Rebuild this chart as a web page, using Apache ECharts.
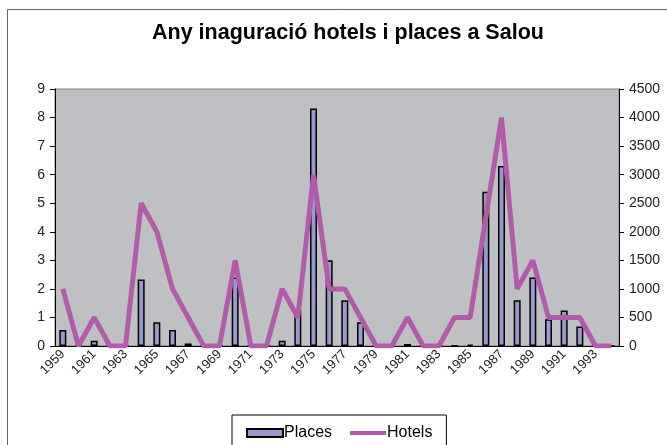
<!DOCTYPE html>
<html>
<head>
<meta charset="utf-8">
<script src="https://cdn.jsdelivr.net/npm/echarts@6/dist/echarts.min.js"></script>
<style>
  html, body { margin: 0; padding: 0; background: #fff; }
  #chart { width: 667px; height: 445px; }
</style>
</head>
<body>
<div id="chart"></div>
<script>
var years = ['1959', '1960', '1961', '1962', '1963', '1964', '1965', '1966', '1967', '1968',
             '1969', '1970', '1971', '1972', '1973', '1974', '1975', '1976', '1977', '1978',
             '1979', '1980', '1981', '1982', '1983', '1984', '1985', '1986', '1987', '1988',
             '1989', '1990', '1991', '1992', '1993', '1994'];

// places opened each year (right axis)
var places = [280, 0, 90, 0, 0, 1165, 415, 280, 45, 0,
              0, 1200, 0, 0, 90, 620, 4160, 1500, 800, 415,
              0, 0, 35, 0, 0, 12, 25, 2700, 3150, 800,
              1200, 470, 620, 340, 0, 0];

// hotels opened each year (left axis)
var hotels = [2, 0, 1, 0, 0, 5, 4, 2, 1, 0,
              0, 3, 0, 0, 2, 1, 6, 2, 2, 1,
              0, 0, 1, 0, 0, 1, 1, 4.5, 8, 2,
              3, 1, 1, 1, 0, 0];

var chart = echarts.init(document.getElementById('chart'));

var fontFamily = 'Arial, "Liberation Sans", sans-serif';

var option = {
    animation: false,
    textStyle: { fontFamily: fontFamily },
    title: {
        text: 'Any inaguració hotels i places a Salou',
        left: 147,
        top: 17,
        textStyle: { fontSize: 21.5, fontWeight: 'bold', color: '#000', fontFamily: fontFamily }
    },
    graphic: [{
        type: 'rect',
        shape: { x: 7.5, y: 9.5, width: 700, height: 500 },
        style: { fill: 'none', stroke: '#666', lineWidth: 1 },
        silent: true,
        z: -10
    }],
    legend: {
        left: 232,
        top: 415,
        width: 210,
        padding: [10, 14, 20, 14],
        borderColor: '#000',
        borderWidth: 1,
        itemGap: 18,
        itemWidth: 36,
        itemHeight: 8,
        textStyle: { fontSize: 16, color: '#000', padding: [0, 0, 0, -4], fontFamily: fontFamily },
        data: [
            { name: 'Places', icon: 'rect' },
            { name: 'Hotels', icon: 'path://M0,0h36v4h-36z' }
        ]
    },
    grid: {
        left: 55,
        right: 48,
        top: 89,
        bottom: 99,
        show: true,
        backgroundColor: '#bfc0c4',
        borderColor: '#808080',
        borderWidth: 1
    },
    xAxis: {
        type: 'category',
        data: years,
        axisLine: { lineStyle: { color: '#000', width: 1 } },
        axisTick: { interval: 0, length: 5, lineStyle: { color: '#000' } },
        axisLabel: { interval: 1, rotate: 45, margin: 6, fontSize: 13, color: '#222', fontFamily: fontFamily }
    },
    yAxis: [
        {
            type: 'value',
            min: 0,
            max: 9,
            interval: 1,
            splitLine: { show: false },
            axisLine: { show: true, lineStyle: { color: '#000' } },
            axisTick: { show: true, length: 5, lineStyle: { color: '#000' } },
            axisLabel: { margin: 10, fontSize: 14, color: '#222', fontFamily: fontFamily }
        },
        {
            type: 'value',
            min: 0,
            max: 4500,
            interval: 500,
            splitLine: { show: false },
            axisLine: { show: true, lineStyle: { color: '#000' } },
            axisTick: { show: true, length: 5, lineStyle: { color: '#000' } },
            axisLabel: {
                margin: 10, fontSize: 14, color: '#222', fontFamily: fontFamily,
                formatter: function (v) { return String(v); }
            }
        }
    ],
    series: [
        {
            name: 'Places',
            type: 'bar',
            yAxisIndex: 1,
            barWidth: 7,
            itemStyle: { color: '#9999cc', borderColor: '#000', borderWidth: 1.5 },
            data: places
        },
        {
            name: 'Hotels',
            type: 'line',
            yAxisIndex: 0,
            symbol: 'none',
            color: '#b25ca9',
            lineStyle: { color: '#b25ca9', width: 5 },
            data: hotels
        }
    ]
};
chart.setOption(option);
</script>
</body>
</html>
